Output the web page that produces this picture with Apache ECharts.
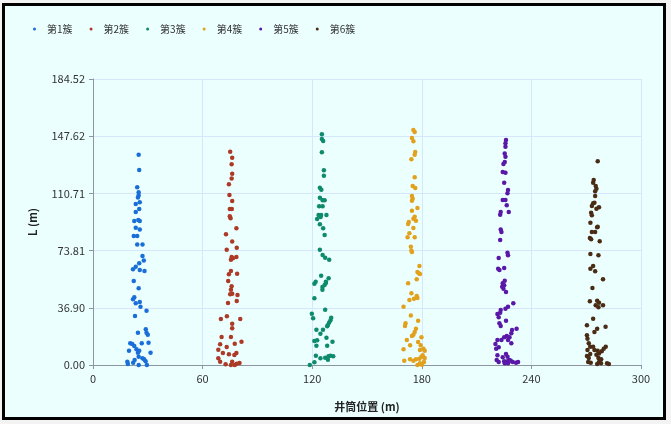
<!DOCTYPE html>
<html>
<head>
<meta charset="utf-8">
<script src="https://cdn.jsdelivr.net/npm/echarts@6/dist/echarts.min.js"></script>
<style>
html,body{margin:0;padding:0;width:671px;height:424px;background:#f3f3f3;overflow:hidden;}
#frame{position:absolute;left:2px;top:3px;width:664px;height:417px;box-sizing:border-box;border:3px solid #000;background:#ebfffe;}
#chart{position:absolute;left:0;top:0;width:671px;height:424px;}
</style>
</head>
<body>
<div id="frame"></div>
<div id="chart"></div>
<script>
const seriesNames = ['第1簇','第2簇','第3簇','第4簇','第5簇','第6簇'];
const xTicks = [0, 60, 120, 180, 240, 300];
const yTickStep = 36.904;
const yMax = 184.52;

const cluster1 = [[25.0,135.7],[25.3,125.8],[24.2,114.6],[25.0,111.5],[25.0,109.5],[24.6,108],[25.6,105],[23.4,103.9],[25.3,100.6],[23.4,98.7],[22.6,92.9],[24.8,93.5],[25.6,92.9],[23.4,88.6],[25.6,87.5],[22.3,83.2],[24.2,83.2],[24.2,77.8],[27.1,77.8],[27.1,70.3],[27.8,67.5],[21.9,61.7],[23.4,63.4],[25.3,65.6],[25.6,61.3],[28.2,60.6],[22.3,54.2],[25.0,49.5],[22.6,43.7],[21.9,42.4],[23.4,39.8],[25.6,40.6],[26.0,37.6],[29.3,35],[23.0,31.6],[24.6,20.8],[28.9,23],[29.3,20.8],[30.0,19.5],[30.4,14.4],[20.4,14],[21.5,13.5],[22.6,12.3],[23.8,10.1],[25.3,9.2],[26.7,14],[19.7,9.2],[24.6,7.9],[31.5,7.9],[25.0,5.4],[27.1,4.3],[18.8,2.1],[19.1,0.6],[22.0,1.5],[22.8,3.2],[25.0,0],[28.0,3.7],[28.8,2.4],[29.5,0]];
const cluster2 = [[75.1,137.6],[76.2,133.7],[75.9,129.5],[76.2,123.4],[75.9,120.4],[74.4,116.6],[74.7,109.7],[76.2,105.8],[74.9,100.6],[76.0,100.6],[74.9,95.9],[75.3,94.6],[78.5,88.2],[72.8,84.3],[76.2,79.6],[73.2,74.4],[78.7,75.7],[75.9,69.7],[75.5,67.9],[76.6,68.8],[78.5,69.7],[75.5,60.6],[74.4,58.5],[78.9,58.9],[74.0,54.2],[75.9,50.8],[75.5,48.6],[76.2,46],[75.1,45.6],[79.1,45.2],[73.9,40],[78.7,41.3],[70.0,29.7],[73.3,31.4],[80.6,29.7],[76.2,26.6],[76.2,23.7],[70.4,18.1],[75.5,18.1],[69.6,13.4],[73.2,11.6],[77.6,13.7],[81.3,15],[68.6,9.9],[71.1,7.7],[74.4,6.9],[78.5,7.7],[77.4,6.5],[68.6,4.3],[69.6,2.1],[72.6,0.5],[76.2,2.1],[78.7,0.8],[80.2,1.3],[75.5,0],[77.6,0]];
const cluster3 = [[125.3,148.8],[125.3,145.8],[126.0,144.5],[125.3,137.2],[126.4,125.6],[126.4,122.1],[124.2,114.4],[125.0,113.1],[124.2,107.9],[125.7,106.3],[126.8,106.3],[123.8,102.4],[125.7,102.4],[123.5,96.8],[124.9,96.8],[127.8,96.8],[122.7,94.2],[124.6,95.5],[124.2,90.8],[126.0,88.2],[126.8,83.9],[124.2,74.4],[125.7,71],[127.1,69.2],[129.3,67.9],[124.9,57.6],[127.5,53.7],[129.0,55.9],[121.2,52.5],[121.9,53.7],[125.6,50.3],[126.8,51.6],[127.5,52.9],[125.6,48.6],[121.2,43],[119.8,33.1],[120.5,30.1],[127.1,35.7],[130.4,30.5],[130.0,28.8],[129.3,27.5],[128.6,25.8],[128.2,25],[122.3,22.8],[125.9,22.8],[124.5,20.2],[121.2,15.5],[122.3,12.5],[122.7,15.9],[127.8,17.6],[128.2,12.5],[131.1,15],[122.0,6],[124.5,4.3],[127.1,4.7],[128.9,5.6],[130.0,6],[131.5,5.6],[118.7,0],[121.2,1.7],[128.6,3.4]];
const cluster4 = [[175.4,151.6],[176.1,150.3],[174.6,146.5],[175.4,144.3],[176.4,137.4],[176.1,135.7],[174.3,132.7],[176.1,121.1],[175.0,115.5],[176.4,114.2],[174.6,109],[175.0,107.3],[174.6,106],[177.6,101.3],[174.6,99.5],[176.1,95.7],[175.4,94.4],[176.8,93.1],[172.9,92.3],[172.5,91],[175.4,88.4],[173.2,85],[172.2,82.4],[176.1,82.4],[174.0,76.3],[174.3,73.7],[174.6,72.9],[178.7,63.9],[177.6,60],[178.3,59.2],[179.0,58.7],[177.2,55.3],[172.5,52.7],[174.3,46.3],[177.2,44.5],[177.6,43.2],[175.7,42.8],[173.2,41.9],[170.0,37.6],[174.0,32],[171.1,26.9],[170.8,25.2],[178.0,28.6],[176.8,23.4],[176.1,21.3],[175.4,19.5],[174.6,18.7],[171.8,16.1],[178.0,14.8],[179.8,17.9],[173.6,12.7],[170.0,10.1],[179.4,12.7],[179.0,9.7],[180.9,10.5],[181.6,9.2],[170.4,2.8],[173.6,3.7],[175.4,2.8],[176.8,3.7],[178.7,4.1],[179.8,5.4],[180.5,6.3],[181.6,4.5],[181.2,1.9],[179.0,1.1],[180.1,0.2],[177.6,0]];
const cluster5 = [[226.1,145.2],[225.8,143],[225.8,140.8],[225.4,136.5],[225.8,134.4],[225.4,131],[224.7,129.7],[224.3,124.5],[225.8,124.1],[225.1,117.6],[227.2,112.9],[226.9,110.8],[224.3,106.5],[225.8,106.5],[226.5,103],[227.6,98.7],[222.9,97],[223.2,98.7],[223.2,87.5],[223.6,85.8],[222.9,80.6],[226.9,72.5],[227.2,70.8],[222.1,69],[221.8,62.1],[225.1,62.6],[222.5,61.3],[224.3,52.7],[225.1,51.4],[224.0,50.5],[224.7,49.2],[226.1,47.1],[225.4,54.4],[230.1,39.8],[227.2,37.6],[225.8,36.3],[223.2,35.5],[221.4,32.9],[222.9,33.7],[222.1,30.8],[222.5,26.9],[223.2,25.2],[226.1,28.6],[231.9,23.4],[229.4,22.6],[229.0,20.5],[226.5,18.7],[225.1,17.9],[223.6,16.1],[228.0,17.9],[221.4,16.1],[220.3,13.5],[222.1,11.4],[220.7,10.5],[227.2,16.1],[229.0,14],[221.4,6.3],[226.1,7.1],[226.9,5.4],[228.0,3.2],[224.3,5],[221.0,3.2],[222.1,1.9],[225.1,2.4],[226.9,2.4],[228.7,2.8],[229.8,1.9],[231.6,1.5],[232.7,1.9],[225.4,1.1],[227.2,1.1]];
const cluster6 = [[276.3,131.4],[274.1,119.4],[273.8,117.6],[275.2,115.5],[275.6,113.7],[274.9,112.1],[274.9,109],[273.8,104.3],[274.5,104.7],[273.1,102.6],[277.0,101.7],[275.6,100.8],[272.7,98.3],[273.1,96.6],[272.3,91.8],[276.0,88.8],[276.3,89.2],[273.1,85.8],[274.9,85.8],[272.0,81.9],[272.7,81.1],[277.4,79.8],[272.3,71.6],[276.7,70.8],[273.8,63.9],[272.3,62.1],[274.9,60.5],[279.2,55.3],[273.4,49.7],[272.0,41.1],[276.0,41.5],[277.0,40.2],[275.2,38.5],[276.7,37.2],[279.2,38.5],[273.8,29.9],[270.4,25.6],[280.6,24.7],[276.0,23.4],[274.5,21.3],[270.4,19.2],[270.7,17],[271.4,14],[272.2,11.8],[273.8,11.8],[274.5,9.7],[280.7,11.8],[279.6,10.5],[270.7,9.7],[272.2,7.1],[276.3,9.2],[277.0,7.5],[278.5,8.8],[270.4,5.8],[271.4,4.5],[275.6,6.6],[276.7,4.5],[278.2,3.7],[271.1,1.9],[272.5,1.5],[277.0,1.9],[278.1,1.1],[281.4,1.1],[282.4,0.6],[276.0,0.6]];

const clusters = [cluster1, cluster2, cluster3, cluster4, cluster5, cluster6];
const colors = ['#1a6ed8','#ad3a26','#0e8a6c','#e2a11c','#5a18a8','#4a2c14'];

const chart = echarts.init(document.getElementById('chart'), null, {renderer:'canvas'});
const font = '"Noto Sans CJK SC", "Noto Sans", sans-serif';
chart.setOption({
  animation: false,
  backgroundColor: 'transparent',
  textStyle: {fontFamily: font},
  color: colors,
  legend: {
    left: 28, top: 19,
    icon: 'circle',
    itemWidth: 3, itemHeight: 3,
    itemGap: 17,
    textStyle: {fontSize: 10, color: '#333', fontFamily: font, padding:[0,0,0,6]},
    data: seriesNames
  },
  grid: {left: 93, top: 79, width: 548, height: 286, containLabel: false},
  xAxis: {
    type: 'value', min: xTicks[0], max: xTicks[xTicks.length-1], interval: 60,
    name: '井筒位置 (m)', nameLocation: 'middle', nameGap: 36,
    nameTextStyle: {fontSize: 11, fontWeight: 'bold', color: '#222', fontFamily: font},
    axisLine: {show: true, lineStyle: {color: '#8c96a0', width: 1}},
    axisTick: {show: true, length: 4, lineStyle: {color: '#8c96a0'}},
    axisLabel: {fontSize: 11, color: '#333', margin: 8},
    splitLine: {show: true, lineStyle: {color: '#d6e6fb', width: 1}}
  },
  yAxis: {
    type: 'value', min: 0, max: yMax, interval: yTickStep,
    name: 'L (m)', nameLocation: 'middle', nameGap: 55, nameRotate: 90,
    nameTextStyle: {fontSize: 11, fontWeight: 'bold', color: '#222', fontFamily: font},
    axisLine: {show: true, lineStyle: {color: '#8c96a0', width: 1}},
    axisTick: {show: true, length: 4, lineStyle: {color: '#8c96a0'}},
    axisLabel: {fontSize: 11, color: '#333', margin: 8, formatter: v => v.toFixed(2)},
    splitLine: {show: true, lineStyle: {color: '#d6e6fb', width: 1}}
  },
  series: clusters.map((d, i) => ({
    name: seriesNames[i], type: 'scatter', data: d, symbolSize: 4.5,
    itemStyle: {color: colors[i], opacity: 1}
  }))
});
</script>
</body>
</html>
